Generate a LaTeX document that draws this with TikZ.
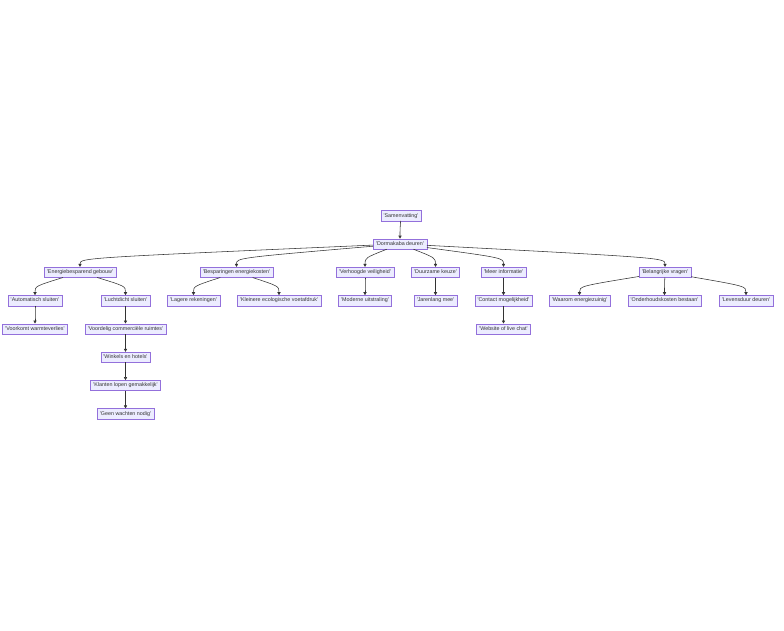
\documentclass[tikz,border=0pt]{standalone}
\usepackage{fontspec}
\newfontfamily\mf{Liberation Sans}[Ligatures=TeXOff]
\usetikzlibrary{arrows.meta}
\definecolor{nfill}{HTML}{ECECFF}
\definecolor{nstroke}{HTML}{9370DB}
\definecolor{ntext}{HTML}{333333}
\definecolor{eline}{HTML}{333333}
\newcommand\ed[2]{\draw[edge] (#1) .. controls ([yshift=9pt]#2.north) .. (#2.north);}
\begin{document}
\begin{tikzpicture}[x=1pt,y=-1pt,
  box/.style={draw=nstroke, fill=nfill, line width=0.3pt, text=ntext,
    font=\mf\fontsize{5.36}{6}\selectfont, inner xsep=2.8pt, inner ysep=0pt,
    minimum height=10.3pt, text height=3.9pt, text depth=1.1pt},
  edge/.style={draw=eline, line width=0.55pt, -{Triangle[length=3pt,width=3.2pt]}}]
\fill[white] (0,0) rectangle (784,630);
\path[use as bounding box] (0,0) rectangle (784,630);
\def\ya{215.6}\def\yb{243.9}\def\yc{272.2}\def\yd{300.5}\def\ye{328.8}\def\yf{357.1}\def\yg{385.4}\def\yh{413.7}
\node[box] (sam) at (401,\ya) {'Samenvatting'};
\node[box] (dor) at (400,\yb) {'Dormakaba deuren'};
\node[box] (eg) at (80,\yc) {'Energiebesparend gebouw'};
\node[box] (be) at (236.5,\yc) {'Besparingen energiekosten'};
\node[box] (vv) at (365,\yc) {'Verhoogde veiligheid'};
\node[box] (dk) at (435.5,\yc) {'Duurzame keuze'};
\node[box] (mi) at (503.5,\yc) {'Meer informatie'};
\node[box] (bv) at (665,\yc) {'Belangrijke vragen'};
\node[box] (as) at (35,\yd) {'Automatisch sluiten'};
\node[box] (ls) at (125.5,\yd) {'Luchtdicht sluiten'};
\node[box] (lr) at (193.5,\yd) {'Lagere rekeningen'};
\node[box] (ke) at (279,\yd) {'Kleinere ecologische voetafdruk'};
\node[box] (mu) at (365,\yd) {'Moderne uitstraling'};
\node[box] (jm) at (435.5,\yd) {'Jarenlang mee'};
\node[box] (cm) at (503.5,\yd) {'Contact mogelijkheid'};
\node[box] (we) at (579.5,\yd) {'Waarom energiezuinig'};
\node[box] (oh) at (664.5,\yd) {'Onderhoudskosten bestaan'};
\node[box] (ld) at (746,\yd) {'Levensduur deuren'};
\node[box] (vw) at (35,\ye) {'Voorkomt warmteverlies'};
\node[box] (vc) at (125.5,\ye) {'Voordelig commerciële ruimtes'};
\node[box] (wl) at (503.5,\ye) {'Website of live chat'};
\node[box] (wh) at (125.5,\yf) {'Winkels en hotels'};
\node[box] (kl) at (125.5,\yg) {'Klanten lopen gemakkelijk'};
\node[box] (gw) at (125.5,\yh) {'Geen wachten nodig'};
\ed{sam}{dor}
\ed{dor}{eg}\ed{dor}{be}\ed{dor}{vv}\ed{dor}{dk}\ed{dor}{mi}\ed{dor}{bv}
\ed{eg}{as}\ed{eg}{ls}
\ed{be}{lr}\ed{be}{ke}
\ed{vv}{mu}\ed{dk}{jm}\ed{mi}{cm}
\ed{bv}{we}\ed{bv}{oh}\ed{bv}{ld}
\ed{as}{vw}\ed{ls}{vc}\ed{cm}{wl}
\ed{vc}{wh}\ed{wh}{kl}\ed{kl}{gw}
\end{tikzpicture}
\end{document}
